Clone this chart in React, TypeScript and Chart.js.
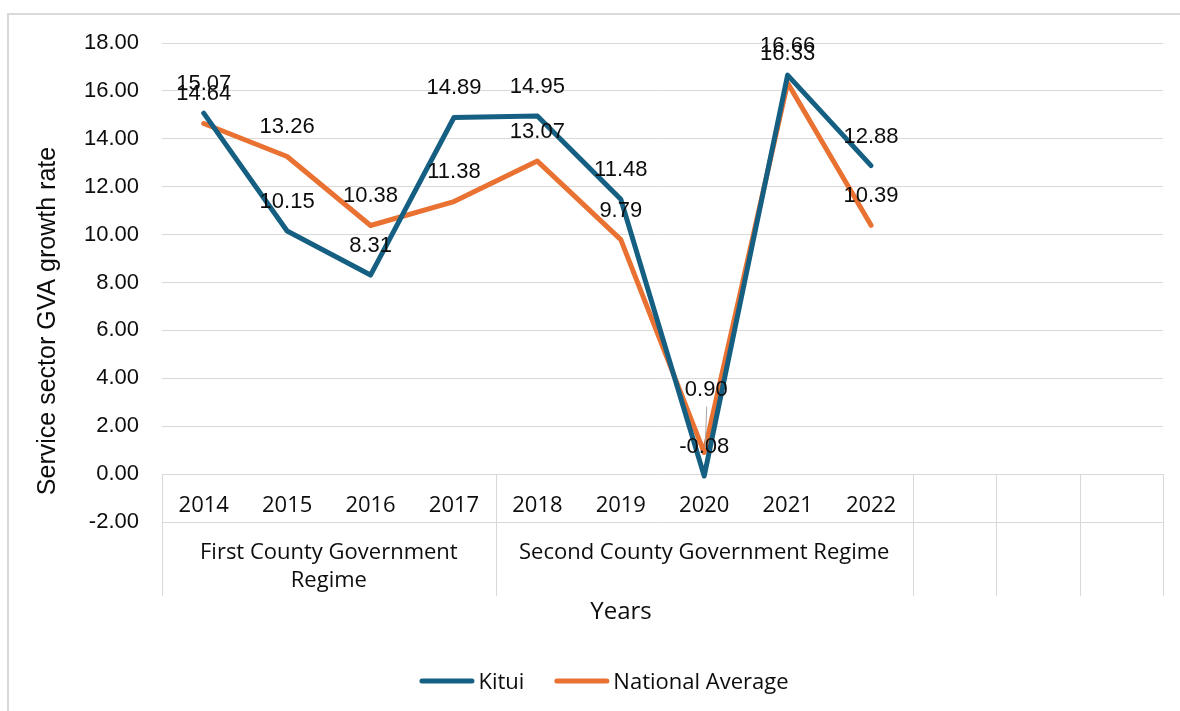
import React, { useEffect, useRef } from "react";
import { Chart, registerables } from "chart.js";

Chart.register(...registerables);

const CATEGORIES = ["2014", "2015", "2016", "2017", "2018", "2019", "2020", "2021", "2022", "", "", ""];
const KITUI = [15.07, 10.15, 8.31, 14.89, 14.95, 11.48, -0.08, 16.66, 12.88];
const NATIONAL = [14.64, 13.26, 10.38, 11.38, 13.07, 9.79, 0.9, 16.33, 10.39];
const GROUP_LABELS = ["First County Government Regime", "Second County Government Regime", "", "", ""];
const GROUP_SPANS = [4, 5, 1, 1, 1];
const SERIES_NAMES = ["Kitui", "National Average"];
const SERIES_COLORS = ["#156082", "#E97132"];
const Y_TITLE = "Service sector GVA growth rate";
const X_TITLE = "Years";

const ARIAL = "'Liberation Sans', Arial, sans-serif";
const APTOS = "'Open Sans', 'Noto Sans', sans-serif";
const GRID = "#d9d9d9";
const TEXT = "#0d0d0d";

// manual label lift (the 0.90 label was dragged up with a leader line)
const LABEL_LIFT: Record<string, number> = { "1-6": 33 };

function wrapText(ctx: CanvasRenderingContext2D, text: string, maxW: number): string[] {
  const words = text.split(" ");
  const lines: string[] = [];
  let cur = "";
  for (const w of words) {
    const t = cur ? cur + " " + w : w;
    if (ctx.measureText(t).width > maxW && cur) {
      lines.push(cur);
      cur = w;
    } else cur = t;
  }
  if (cur) lines.push(cur);
  return lines;
}

const decorPlugin = {
  id: "excelDecor",
  beforeDraw(chart: any) {
    const ctx = chart.ctx as CanvasRenderingContext2D;
    ctx.save();
    ctx.fillStyle = "#fff";
    ctx.fillRect(0, 0, chart.width, chart.height);
    ctx.strokeStyle = GRID;
    ctx.lineWidth = 2;
    ctx.beginPath();
    ctx.moveTo(8, chart.height + 10);
    ctx.lineTo(8, 14);
    ctx.lineTo(chart.width + 10, 14);
    ctx.stroke();
    ctx.restore();
  },
  afterDatasetsDraw(chart: any) {
    const ctx = chart.ctx as CanvasRenderingContext2D;
    ctx.save();
    ctx.font = `22px ${ARIAL}`;
    ctx.fillStyle = TEXT;
    ctx.textAlign = "center";
    ctx.textBaseline = "alphabetic";
    chart.data.datasets.forEach((ds: any, d: number) => {
      const meta = chart.getDatasetMeta(d);
      meta.data.forEach((pt: any, i: number) => {
        const v = ds.data[i];
        if (v === null || v === undefined) return;
        const lift = LABEL_LIFT[`${d}-${i}`] || 0;
        const cy = pt.y - 31 - lift;
        const cx = pt.x + (lift ? 2 : 0);
        if (lift) {
          ctx.save();
          ctx.strokeStyle = "#a6a6a6";
          ctx.lineWidth = 1;
          ctx.beginPath();
          ctx.moveTo(cx + 0.5, cy + 18);
          ctx.lineTo(pt.x + 1, pt.y - 4);
          ctx.stroke();
          ctx.restore();
        }
        ctx.fillText(Number(v).toFixed(2), cx, cy + 7.9);
      });
    });
    ctx.restore();
  },
  afterDraw(chart: any) {
    const ctx = chart.ctx as CanvasRenderingContext2D;
    const xs = chart.scales.x;
    const ys = chart.scales.y;
    const area = chart.chartArea;
    const n = CATEGORIES.length;
    const catW = (area.right - area.left) / n;
    const y0 = Math.round(ys.getPixelForValue(0));
    const yRow = Math.round(ys.getPixelForValue(-2));
    const yBottom = yRow + 74;

    ctx.save();
    // table vertical lines
    ctx.strokeStyle = GRID;
    ctx.lineWidth = 1;
    let acc = 0;
    const bounds = [0];
    GROUP_SPANS.forEach((s) => {
      acc += s;
      bounds.push(acc);
    });
    bounds.forEach((b) => {
      const x = Math.round(area.left + b * catW) + 0.5;
      ctx.beginPath();
      ctx.moveTo(x, y0);
      ctx.lineTo(x, yBottom);
      ctx.stroke();
    });

    // year labels
    ctx.fillStyle = TEXT;
    ctx.font = `22px ${APTOS}`;
    ctx.textAlign = "center";
    ctx.textBaseline = "alphabetic";
    CATEGORIES.forEach((c, i) => {
      if (!c) return;
      const x = xs.getPixelForValue(i);
      ctx.fillText(c, x, y0 + 38);
    });

    // group labels
    let start = 0;
    GROUP_LABELS.forEach((g, gi) => {
      const span = GROUP_SPANS[gi];
      const left = area.left + start * catW;
      const w = span * catW;
      start += span;
      if (!g) return;
      const lines = wrapText(ctx, g, w - 12);
      lines.forEach((ln, li) => {
        ctx.fillText(ln, left + w / 2, yRow + 37 + li * 28);
      });
    });

    // x title
    ctx.font = `24px ${APTOS}`;
    ctx.fillText(X_TITLE, 621, 619);

    // y title
    ctx.save();
    ctx.font = `25px ${ARIAL}`;
    ctx.translate(48, 321);
    ctx.rotate(-Math.PI / 2);
    ctx.textBaseline = "middle";
    ctx.fillText(Y_TITLE, 0, 0);
    ctx.restore();

    // legend
    ctx.font = `22px ${APTOS}`;
    const lineLen = 55;
    const gap = 4;
    const spacing = 30;
    const widths = SERIES_NAMES.map((s) => ctx.measureText(s).width);
    const total = widths.reduce((a, w) => a + lineLen + gap + w, 0) + spacing * (SERIES_NAMES.length - 1);
    let lx = 604 - total / 2;
    const ly = 681;
    ctx.textAlign = "left";
    SERIES_NAMES.forEach((s, i) => {
      ctx.strokeStyle = SERIES_COLORS[i];
      ctx.lineWidth = 5;
      ctx.lineCap = "round";
      ctx.beginPath();
      ctx.moveTo(lx + 2.5, ly);
      ctx.lineTo(lx + lineLen - 2.5, ly);
      ctx.stroke();
      ctx.fillStyle = TEXT;
      ctx.fillText(s, lx + lineLen + gap, ly + 8);
      lx += lineLen + gap + widths[i] + spacing;
    });
    ctx.restore();
  },
};

export default function App() {
  const ref = useRef<HTMLCanvasElement | null>(null);
  useEffect(() => {
    if (!ref.current) return;
    const chart = new Chart(ref.current, {
      type: "line",
      data: {
        labels: CATEGORIES,
        datasets: [
          {
            label: SERIES_NAMES[0],
            data: KITUI,
            borderColor: SERIES_COLORS[0],
            backgroundColor: SERIES_COLORS[0],
            borderWidth: 5,
            pointRadius: 0,
            borderCapStyle: "round",
            borderJoinStyle: "round",
            tension: 0,
          },
          {
            label: SERIES_NAMES[1],
            data: NATIONAL,
            borderColor: SERIES_COLORS[1],
            backgroundColor: SERIES_COLORS[1],
            borderWidth: 5,
            pointRadius: 0,
            borderCapStyle: "round",
            borderJoinStyle: "round",
            tension: 0,
          },
        ],
      },
      options: {
        responsive: false,
        animation: false,
        layout: { padding: { left: 0, top: 43, right: 17, bottom: 189 } },
        plugins: { legend: { display: false }, tooltip: { enabled: false } },
        scales: {
          x: { display: false, offset: true },
          y: {
            min: -2,
            max: 18,
            ticks: {
              stepSize: 2,
              callback: (v: any) => Number(v).toFixed(2),
              font: { family: ARIAL, size: 22 },
              color: TEXT,
              padding: 23,
            },
            grid: { color: GRID, lineWidth: 1, drawTicks: false },
            border: { display: false },
            afterFit: (s: any) => {
              s.width = 162;
            },
          },
        },
      },
      plugins: [decorPlugin],
    } as any);
    return () => chart.destroy();
  }, []);
  return (
    <div style={{ position: "fixed", left: 0, top: 0, width: 1180, height: 711, background: "#fff" }}>
      <canvas ref={ref} width={1180} height={711} style={{ display: "block" }} />
    </div>
  );
}
